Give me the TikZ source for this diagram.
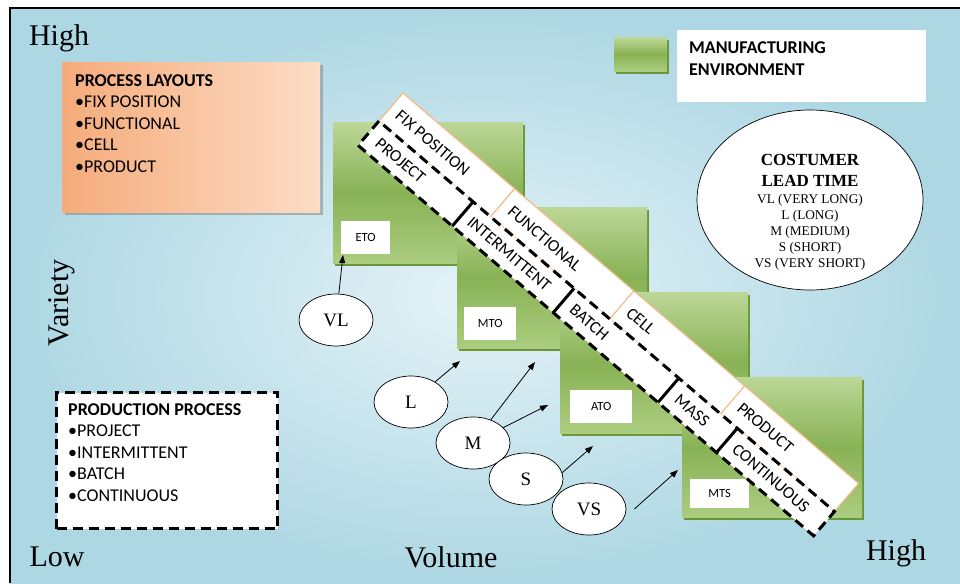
\documentclass[tikz,border=0pt]{standalone}
\usepackage{fontspec}
\setmainfont{Liberation Serif}
\newfontfamily\calib{Carlito}
\usetikzlibrary{arrows.meta,shapes.geometric,shadows,calc}
\definecolor{bgin}{HTML}{E6F3F7}
\definecolor{bgout}{HTML}{ADD7E3}
\definecolor{gtop}{HTML}{BCD797}
\definecolor{gmid}{HTML}{88B255}
\definecolor{gbot}{HTML}{ACCD80}
\definecolor{gshadow}{HTML}{6A963A}
\definecolor{orA}{HTML}{F5AB7B}
\definecolor{orB}{HTML}{FCDDC6}
\definecolor{orline}{HTML}{F2BA88}
\tikzset{
  envbox/.style={top color=gtop, bottom color=gbot, middle color=gmid, anchor=north west,
    inner sep=0pt, drop shadow={shadow xshift=2pt, shadow yshift=-3pt, fill=gshadow, opacity=1}},
  lbl/.style={fill=white, anchor=north west, inner sep=0pt, font=\calib\fontsize{12.5}{14}\selectfont},
  oval/.style={ellipse, draw=black, line width=0.7pt, fill=white, minimum width=74pt, minimum height=52pt,
    inner sep=0pt, font=\fontsize{19}{21}\selectfont},
  arr/.style={-{Triangle[length=8pt,width=6pt]}, line width=0.8pt, black},
  axislbl/.style={inner sep=0pt, font=\fontsize{30}{32}\selectfont},
  bandtxt/.style={anchor=west, inner sep=0pt, rotate=-40.6, font=\calib\fontsize{17}{19}\selectfont},
  topband/.style={fill=white, draw=orline, line width=1.2pt},
  lowdash/.style={draw=black, line width=3pt, dash pattern=on 10pt off 6pt},
  lowdiv/.style={draw=black, line width=3pt},
  listtxt/.style={anchor=north west, inner sep=0pt, align=left, font=\calib\fontsize{18}{21.5}\selectfont},
}
\begin{document}
\begin{tikzpicture}[x=1pt,y=-1pt]
\useasboundingbox (0,0) rectangle (960,583);
% background and frame
\shade[inner color=bgin, outer color=bgout] (10,8) rectangle (960,583);
\draw[line width=2pt, black] (960,8) -- (10,8) -- (10,583);

% axis labels
\node[axislbl] (hiV) at (59,38) {High};
\node[axislbl] (loX) at (57,557) {Low};
\node[axislbl] (vol) at (451,557) {Volume};
\node[axislbl] (hiX) at (896,553) {High};
\node[axislbl, rotate=90] (var) at (62,303) {Variety};

% process layouts box
\node[left color=orA, right color=orB, anchor=north west, minimum width=258pt, minimum height=150pt,
  inner sep=0pt, drop shadow={shadow xshift=3pt, shadow yshift=-3pt, fill=black!45, opacity=.6}] (PLbox) at (62,62) {};
\node[listtxt] (PLtxt) at (75,74) {\textbf{PROCESS LAYOUTS}\\•FIX POSITION\\•FUNCTIONAL\\•CELL\\•PRODUCT};

% production process box
\node[fill=white, lowdash, anchor=north west, minimum width=221pt, minimum height=136pt, inner sep=0pt] (PPbox) at (55,391) {};
\node[listtxt] (PPtxt) at (68,403) {\textbf{PRODUCTION PROCESS}\\•PROJECT\\•INTERMITTENT\\•BATCH\\•CONTINUOUS};

% legend
\node[envbox, minimum width=53pt, minimum height=34pt] (legG) at (614,37) {};
\node[fill=white, anchor=north west, minimum width=249pt, minimum height=72pt, inner sep=0pt] (legW) at (677,30) {};
\node[anchor=north west, inner sep=0pt, align=left, font=\calib\bfseries\fontsize{18}{22}\selectfont] (legT) at (689,41) {MANUFACTURING\\ENVIRONMENT};

% customer lead time
\node[ellipse, draw=black, line width=0.7pt, fill=white, minimum width=226pt, minimum height=180pt, inner sep=0pt] (CLT) at (810,200) {};
\node[align=center, inner sep=0pt, font=\bfseries\fontsize{17}{21}\selectfont] (CLTh) at (810,170) {COSTUMER\\LEAD TIME};
\node[align=center, inner sep=0pt, font=\fontsize{13.3}{16}\selectfont] (CLTl) at (810,232) {VL (VERY LONG)\\L (LONG)\\M (MEDIUM)\\S (SHORT)\\VS (VERY SHORT)};

% manufacturing environment boxes
\node[envbox, minimum width=190pt, minimum height=141pt] (ETObox) at (333,122) {};
\node[lbl, minimum width=49pt, minimum height=33pt] (ETO) at (341,221) {ETO};
\node[envbox, minimum width=190pt, minimum height=141pt] (MTObox) at (457,207) {};
\node[lbl, minimum width=52pt, minimum height=33pt] (MTO) at (464,307) {MTO};
\node[envbox, minimum width=188pt, minimum height=141pt] (ATObox) at (560,292) {};
\node[lbl, minimum width=62pt, minimum height=33pt] (ATO) at (570,390) {ATO};
\node[envbox, minimum width=180pt, minimum height=140pt] (MTSbox) at (682,377) {};
\node[lbl, minimum width=59pt, minimum height=29pt] (MTS) at (690,479) {MTS};

% diagonal bands
\begin{scope}[shift={(403,93)}, rotate=-40.6]
  \draw[topband] (0,0) rectangle (600,37);
  \draw[orline, line width=1.2pt] (147,0) -- (147,37);
  \draw[orline, line width=1.2pt] (304,0) -- (304,37);
  \draw[orline, line width=1.2pt] (450,0) -- (450,37);
  \fill[white] (0,37) rectangle (600,69);
  \draw[lowdash] (0,37) rectangle (600,69);
  \draw[lowdiv] (124,37) -- (124,69);
  \draw[lowdiv] (257,37) -- (257,69);
  \draw[lowdiv] (395,37) -- (395,69);
  \draw[lowdiv] (472,37) -- (472,69);
  \node[bandtxt] (tFix) at (9,18.5) {FIX POSITION};
  \node[bandtxt] (tFun) at (157,18.5) {FUNCTIONAL};
  \node[bandtxt] (tCel) at (313,18.5) {CELL};
  \node[bandtxt] (tPrd) at (459,18.5) {PRODUCT};
  \node[bandtxt] (tPrj) at (12,53) {PROJECT};
  \node[bandtxt] (tInt) at (133,53) {INTERMITTENT};
  \node[bandtxt] (tBat) at (268,53) {BATCH};
  \node[bandtxt] (tMas) at (406,53) {MASS};
  \node[bandtxt] (tCon) at (482,53) {CONTINUOUS};
\end{scope}

% lead time ovals
\node[oval] (VL) at (336,320) {VL};
\node[oval] (L) at (411,402) {L};
\node[oval] (M) at (473,443) {M};
\node[oval] (S) at (526,479) {S};
\node[oval] (VS) at (589,509) {VS};

% arrow tips
\coordinate (tVL) at (343,255);
\coordinate (tL) at (460,361);
\coordinate (tM1) at (535,362);
\coordinate (tM2) at (548,405);
\coordinate (tS) at (593,446);
\coordinate (tVS) at (678,470);
\draw[arr] (VL) -- (tVL);
\draw[arr] (L) -- (tL);
\draw[arr] (M) -- (tM1);
\draw[arr] (M) -- (tM2);
\draw[arr] (S.10) -- (tS);
\draw[arr] ([xshift=8pt]VS.east) -- (tVS);
\end{tikzpicture}
\end{document}
